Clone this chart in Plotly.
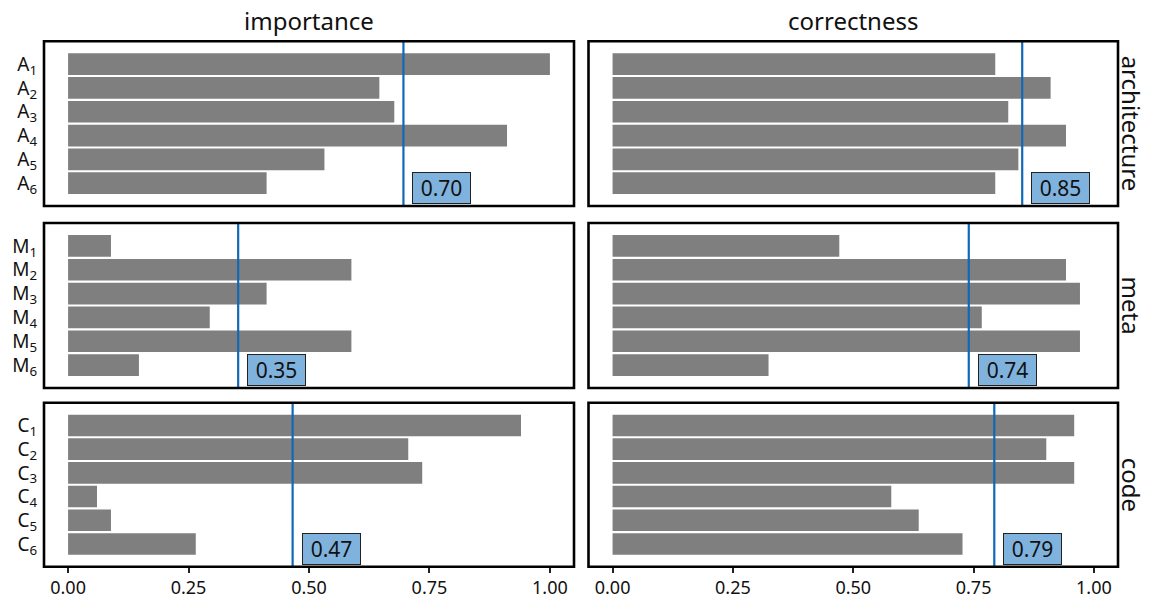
import plotly.graph_objects as go

rows = ["architecture", "meta", "code"]
cols = ["importance", "correctness"]
prefixes = ["A", "M", "C"]

imp_arch = [1.000, 0.646, 0.677, 0.911, 0.532, 0.412]
imp_meta = [0.089, 0.588, 0.412, 0.294, 0.588, 0.147]
imp_code = [0.940, 0.706, 0.735, 0.060, 0.089, 0.265]
cor_arch = [0.795, 0.910, 0.822, 0.942, 0.843, 0.795]
cor_meta = [0.471, 0.942, 0.971, 0.767, 0.971, 0.324]
cor_code = [0.959, 0.901, 0.959, 0.579, 0.636, 0.727]

mean_imp = [0.696, 0.353, 0.466]
mean_cor = [0.851, 0.740, 0.793]

values = {
    ("architecture", "importance"): imp_arch,
    ("meta", "importance"): imp_meta,
    ("code", "importance"): imp_code,
    ("architecture", "correctness"): cor_arch,
    ("meta", "correctness"): cor_meta,
    ("code", "correctness"): cor_code,
}
means = {}
for i, r in enumerate(rows):
    means[(r, "importance")] = mean_imp[i]
    means[(r, "correctness")] = mean_cor[i]

W, H = 1149, 605
xdom = [[44 / W, 574 / W], [588.5 / W, 1118 / W]]
ypix = [[41.3, 206], [223, 388], [402.7, 566.7]]
ydom = [[1 - b / H, 1 - t / H] for t, b in ypix]

FONT = "Noto Sans"
BAR = "#7f7f7f"
LINE = "#1068b8"

fig = go.Figure()
layout = dict(
    width=W, height=H,
    margin=dict(l=0, r=0, t=0, b=0),
    paper_bgcolor="white", plot_bgcolor="white",
    showlegend=False,
    font=dict(family=FONT, color="black"),
)
shapes = []
annotations = []

k = 0
for ri, r in enumerate(rows):
    cats = [f"{prefixes[ri]}<sub>{j + 1}</sub>" for j in range(6)]
    for ci, c in enumerate(cols):
        k += 1
        xa = "x" if k == 1 else f"x{k}"
        ya = "y" if k == 1 else f"y{k}"
        vals = values[(r, c)]
        fig.add_trace(go.Bar(
            x=vals, y=cats, orientation="h",
            marker=dict(color=BAR, line=dict(width=0)),
            width=0.91, xaxis=xa, yaxis=ya, hoverinfo="x+y",
        ))
        layout["xaxis" if k == 1 else f"xaxis{k}"] = dict(
            domain=xdom[ci], anchor=ya, range=[-0.05, 1.05],
            tickvals=[0, 0.25, 0.5, 0.75, 1.0],
            ticktext=["0.00", "0.25", "0.50", "0.75", "1.00"],
            showticklabels=(ri == 2), ticks="outside" if ri == 2 else "",
            ticklen=5, tickwidth=2, tickcolor="#222",
            tickfont=dict(size=18, family=FONT, color="#111"),
            showgrid=False, zeroline=False, showline=False,
        )
        layout["yaxis" if k == 1 else f"yaxis{k}"] = dict(
            domain=ydom[ri], anchor=xa, type="category",
            categoryorder="array", categoryarray=cats,
            tickmode="array", tickvals=cats, ticktext=cats,
            range=[5.96, -0.96],
            showticklabels=(ci == 0), ticks="", ticklabelstandoff=6,
            tickfont=dict(size=19, family=FONT, color="#111"),
            showgrid=False, zeroline=False, showline=False,
        )
        m = means[(r, c)]
        shapes.append(dict(
            type="line", xref=xa, yref=f"{ya} domain",
            x0=m, x1=m, y0=0, y1=1, line=dict(color=LINE, width=2.2),
        ))
        shapes.append(dict(
            type="rect", xref=f"{xa} domain", yref=f"{ya} domain",
            x0=0, x1=1, y0=0, y1=1, line=dict(color="black", width=2.6),
            layer="above",
        ))
        annotations.append(dict(
            x=m, y=cats[5], xref=xa, yref=ya,
            text=f"{m:.2f}", showarrow=False,
            xanchor="left", yanchor="middle", xshift=9, yshift=-5,
            width=55, height=28, align="center", valign="middle",
            font=dict(size=21, family=FONT, color="#111"),
            bgcolor="#7fb3de", bordercolor="#222", borderwidth=1, borderpad=1,
        ))

for ci, c in enumerate(cols):
    annotations.append(dict(
        x=(xdom[ci][0] + xdom[ci][1]) / 2, y=1 - 20 / H,
        xref="paper", yref="paper", text=c, showarrow=False,
        xanchor="center", yanchor="middle",
        font=dict(size=24, family=FONT, color="#111"),
    ))
for ri, r in enumerate(rows):
    annotations.append(dict(
        x=1131 / W, y=(ydom[ri][0] + ydom[ri][1]) / 2,
        xref="paper", yref="paper", text=r, showarrow=False,
        textangle=90, xanchor="center", yanchor="middle",
        font=dict(size=24, family=FONT, color="#111"),
    ))

layout["shapes"] = shapes
layout["annotations"] = annotations
layout["bargap"] = 0.09
fig.update_layout(**layout)
fig.write_html(
    "out.html",
    config={"displayModeBar": False},
    post_script="document.body.style.margin='0';document.body.style.overflow='hidden';",
)
